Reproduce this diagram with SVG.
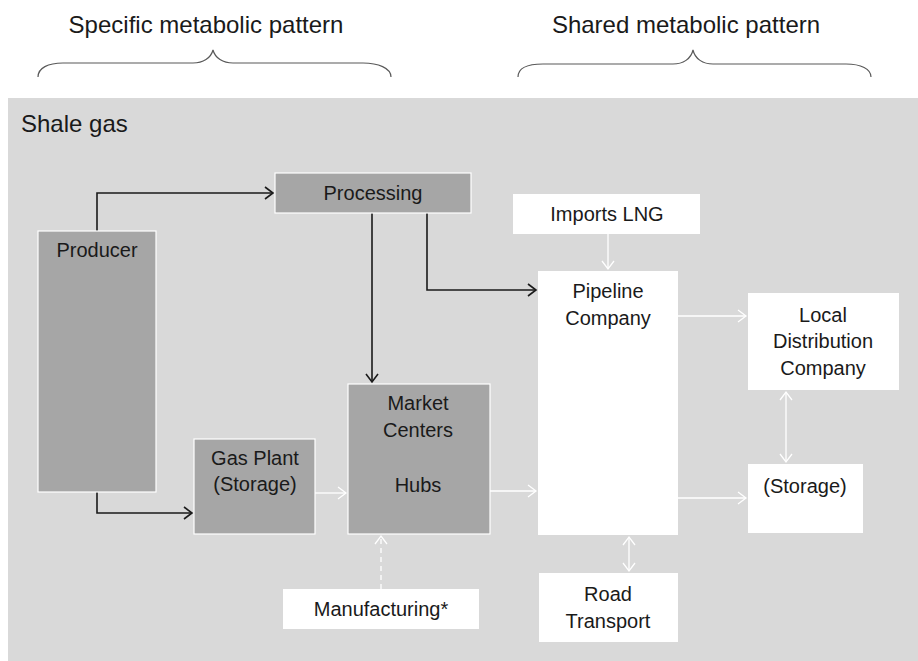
<svg xmlns="http://www.w3.org/2000/svg" width="918" height="661" viewBox="0 0 918 661">
  <style>
    text { font-family: "Liberation Sans", Arial, sans-serif; fill: #1a1a1a; }
    .title { font-size: 24px; }
    .label { font-size: 20px; text-anchor: middle; }
    .dark { fill: #a6a6a6; stroke: #ffffff; stroke-width: 1.2; }
    .light { fill: #ffffff; }
    .brace { fill: none; stroke: #595959; stroke-width: 1.2; }
    .blk { fill: none; stroke: #1a1a1a; stroke-width: 1.6; }
    .wht { fill: none; stroke: #ffffff; stroke-width: 1.3; }
  </style>
  <defs>
    <marker id="ahBlack" markerUnits="userSpaceOnUse" markerWidth="12" markerHeight="14" refX="9" refY="7" orient="auto">
      <path d="M1,1 L9,7 L1,13" fill="none" stroke="#1a1a1a" stroke-width="1.6"/>
    </marker>
    <marker id="ahWhite" markerUnits="userSpaceOnUse" markerWidth="12" markerHeight="14" refX="9" refY="7" orient="auto-start-reverse">
      <path d="M1,1 L9,7 L1,13" fill="none" stroke="#ffffff" stroke-width="1.3"/>
    </marker>
  </defs>

  <rect width="918" height="661" fill="#ffffff"/>

  <!-- pattern headings with braces -->
  <g id="headings">
    <text class="title" x="206" y="33" text-anchor="middle">Specific metabolic pattern</text>
    <text class="title" x="686" y="33" text-anchor="middle">Shared metabolic pattern</text>
    <path class="brace" d="M38,77 C38,68 48,63 63,63 L193,63 C203,63 211,58 213,50 C215,58 223,63 233,63 L363,63 C378,63 391,68 391,77"/>
    <path class="brace" d="M518,77 C518,68 528,64 543,64 L673,64 C683,64 691,59 693,50 C695,59 703,64 713,64 L846,64 C861,64 871,69 871,77"/>
  </g>

  <!-- shale gas panel -->
  <g id="panel">
    <rect x="8" y="98" width="910" height="563" fill="#d9d9d9"/>
    <text class="title" x="21" y="132">Shale gas</text>
  </g>

  <!-- connectors -->
  <g id="connectors">
    <path class="blk" d="M97,231 L97,193 L273,193" marker-end="url(#ahBlack)"/>
    <path class="blk" d="M97,492 L97,513 L192,513" marker-end="url(#ahBlack)"/>
    <path class="blk" d="M372,213 L372,382" marker-end="url(#ahBlack)"/>
    <path class="blk" d="M427,213 L427,290 L536,290" marker-end="url(#ahBlack)"/>
    <path class="wht" d="M315,493 L346,493" marker-end="url(#ahWhite)"/>
    <path class="wht" d="M490,491 L536,491" marker-end="url(#ahWhite)"/>
    <path class="wht" d="M608,234 L608,269" marker-end="url(#ahWhite)"/>
    <path class="wht" d="M678,316 L746,316" marker-end="url(#ahWhite)"/>
    <path class="wht" d="M678,498 L746,498" marker-end="url(#ahWhite)"/>
    <path class="wht" d="M786,392 L786,462" marker-start="url(#ahWhite)" marker-end="url(#ahWhite)"/>
    <path class="wht" d="M629,537 L629,571" marker-start="url(#ahWhite)" marker-end="url(#ahWhite)"/>
    <path class="wht" d="M381,589 L381,536" stroke-dasharray="5,4" marker-end="url(#ahWhite)"/>
  </g>

  <g id="producer">
    <rect class="dark" x="38" y="231" width="118" height="261"/>
    <text class="label" x="97" y="257">Producer</text>
  </g>

  <g id="processing">
    <rect class="dark" x="275" y="173" width="196" height="40"/>
    <text class="label" x="373" y="200">Processing</text>
  </g>

  <g id="gas-plant">
    <rect class="dark" x="194" y="439" width="121" height="95"/>
    <text class="label" x="255" y="465">Gas Plant</text>
    <text class="label" x="255" y="491">(Storage)</text>
  </g>

  <g id="market-centers">
    <rect class="dark" x="348" y="384" width="142" height="150"/>
    <text class="label" x="418" y="410">Market</text>
    <text class="label" x="418" y="437">Centers</text>
    <text class="label" x="418" y="492">Hubs</text>
  </g>

  <g id="manufacturing">
    <rect class="light" x="283" y="589" width="196" height="40"/>
    <text class="label" x="381" y="616">Manufacturing*</text>
  </g>

  <g id="imports-lng">
    <rect class="light" x="513" y="194" width="187" height="40"/>
    <text class="label" x="607" y="221">Imports LNG</text>
  </g>

  <g id="pipeline-company">
    <rect class="light" x="538" y="271" width="140" height="264"/>
    <text class="label" x="608" y="298">Pipeline</text>
    <text class="label" x="608" y="325">Company</text>
  </g>

  <g id="local-distribution">
    <rect class="light" x="748" y="293" width="151" height="97"/>
    <text class="label" x="823" y="322">Local</text>
    <text class="label" x="823" y="348">Distribution</text>
    <text class="label" x="823" y="375">Company</text>
  </g>

  <g id="storage">
    <rect class="light" x="748" y="464" width="115" height="69"/>
    <text class="label" x="805" y="493">(Storage)</text>
  </g>

  <g id="road-transport">
    <rect class="light" x="539" y="573" width="139" height="69"/>
    <text class="label" x="608" y="601">Road</text>
    <text class="label" x="608" y="628">Transport</text>
  </g>
</svg>
